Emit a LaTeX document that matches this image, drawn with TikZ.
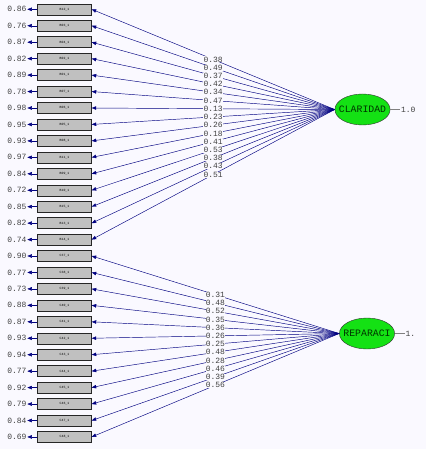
\documentclass[tikz,border=0pt]{standalone}
\usepackage{fontspec}
\setmonofont{Liberation Mono}
\usetikzlibrary{
  arrows.meta,
  positioning,
  shapes.geometric
}
\definecolor{fundo}{RGB}{250,249,255}
\definecolor{azul}{RGB}{0,0,128}
\definecolor{verde}{RGB}{20,225,20}
\definecolor{cinza}{RGB}{192,192,192}

\begin{document}
\begin{tikzpicture}[
    x=1pt,y=-1pt,
    caixa/.style={
    draw=black!85,
    fill=cinza,
    minimum width=54pt,
    minimum height=11pt,
    inner sep=0pt,
    font=\ttfamily\fontsize{3.2}{4}\selectfont
    },
    latente/.style={
    ellipse,
    draw=black!80,
    fill=verde,
    minimum width=55pt,
    minimum height=31pt,
    inner xsep=-4pt,
    inner ysep=0pt,
    text=black!80!green,
    font=\ttfamily\fontsize{9.8}{11}\selectfont
    },
    valor/.style={font=\ttfamily\fontsize{8}{9}\selectfont,inner sep=0.6pt,text=black!75},
    carga/.style={valor,fill=fundo,inner sep=0.3pt},
    seta/.style={-{Triangle[length=4.5pt,width=3.5pt]},azul,line width=0.45pt}
    ]
    
    \fill[fundo] (0,0) rectangle (426,449);
    
    \node[latente] (cla) at (362.5,109.5) {CLARIDAD};
    \node[latente] (rep) at (367,333.5) {REPARACI};
    
    \node[valor,right=10pt of cla] (vcla) {1.0};
    \node[valor,right=10pt of rep] (vrep) {1.};
    \draw[gray,line width=0.4pt] (cla.east) -- (vcla.west);
    \draw[gray,line width=0.4pt] (rep.east) -- (vrep.west);
    
    % itens de claridad
    \foreach \nome/\erro/\carga [count=\i from 0] in {
      B12\_1/0.86/0.38, B03\_1/0.76/0.49, B04\_1/0.87/0.37,
      B02\_1/0.82/0.42, B01\_1/0.89/0.34, B07\_1/0.78/0.47,
      B06\_1/0.98/0.13, B05\_1/0.95/0.23, B08\_1/0.93/0.26,
      B11\_1/0.97/0.18, B09\_1/0.84/0.41, B10\_1/0.72/0.53,
      B15\_1/0.85/0.38, B13\_1/0.82/0.43, B14\_1/0.74/0.51}{
      \node[caixa] (b\i) at (64.5,9.3+16.45*\i) {\nome};
      \node[valor,left=10pt of b\i] (eb\i) {\erro};
      \draw[seta] (b\i.west) -- (eb\i.east);
      \draw[seta] (cla.west) -- node[carga]{\carga} (b\i.east);
    }
    
    % itens de reparaci
    \foreach \nome/\erro/\carga [count=\i from 0] in {
      C37\_1/0.90/0.31, C38\_1/0.77/0.48, C39\_1/0.73/0.52,
      C40\_1/0.88/0.35, C41\_1/0.87/0.36, C42\_1/0.93/0.26,
      C43\_1/0.94/0.25, C44\_1/0.77/0.48, C45\_1/0.92/0.28,
      C46\_1/0.79/0.46, C47\_1/0.84/0.39, C48\_1/0.69/0.56}{
      \node[caixa] (c\i) at (64.5,256+16.45*\i) {\nome};
      \node[valor,left=10pt of c\i] (ec\i) {\erro};
      \draw[seta] (c\i.west) -- (ec\i.east);
      \draw[seta] (rep.west) -- node[carga]{\carga} (c\i.east);
    }
    
\end{tikzpicture}
\end{document}
